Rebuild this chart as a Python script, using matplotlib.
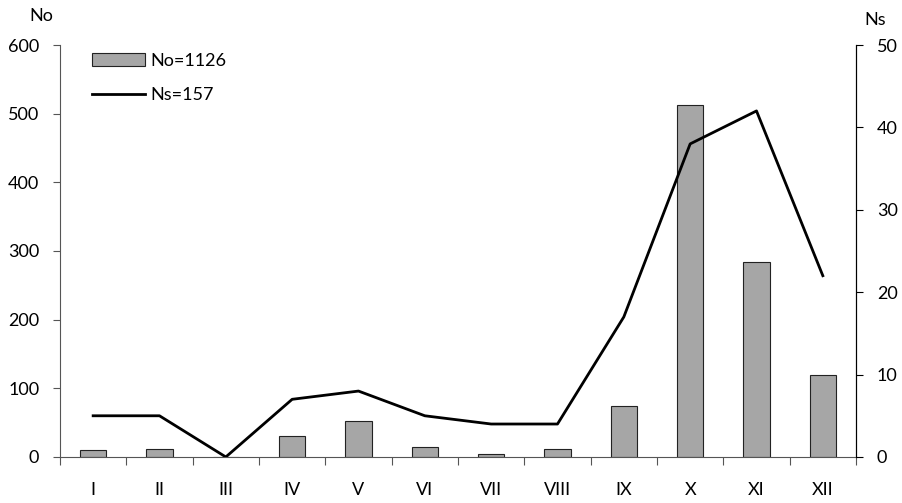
import matplotlib.pyplot as plt
import numpy as np

months = ["I", "II", "III", "IV", "V", "VI", "VII", "VIII", "IX", "X", "XI", "XII"]
no_vals = [10, 11, 0, 30, 52, 15, 5, 12, 74, 513, 284, 120]
ns_vals = [5, 5, 0, 7, 8, 5, 4, 4, 17, 38, 42, 22]

plt.rcParams['font.family'] = ['Lato', 'DejaVu Sans']
plt.rcParams['font.size'] = 13

fig = plt.figure(figsize=(9.02, 5.03), dpi=100)
ax = fig.add_axes([0.0665, 0.0915, 0.8825, 0.819])
x = np.arange(len(months))

bars = ax.bar(x, no_vals, width=0.4, color="#a6a6a6", edgecolor="#222222", linewidth=0.8,
              label="No=1126", zorder=2)
ax.set_xlim(-0.5, 11.5)
ax.set_ylim(0, 600)
ax.set_yticks(range(0, 601, 100))

ax2 = ax.twinx()
line, = ax2.plot(x, ns_vals, color="black", linewidth=2, label="Ns=157", zorder=3)
ax2.set_ylim(0, 50)
ax2.set_yticks(range(0, 51, 10))

# category ticks at boundaries, labels in middle
ax.set_xticks(np.arange(-0.5, 12, 1))
ax.set_xticklabels([])
ax.set_xticks(x, minor=True)
ax.set_xticklabels(months, minor=True)
ax.tick_params(axis="x", which="major", length=6, direction="out", color="#555555")
ax.tick_params(axis="x", which="minor", length=0, pad=18)
ax.tick_params(axis="y", length=5, color="#555555", pad=10)
ax2.tick_params(axis="y", length=5, color="black", pad=10)

for a in (ax, ax2):
    a.spines["top"].set_visible(False)
ax.spines["left"].set_color("#555555")
ax.spines["bottom"].set_color("#555555")
ax2.spines["left"].set_visible(False)
ax2.spines["bottom"].set_visible(False)
ax2.spines["right"].set_color("black")

fig.text(0.033, 0.968, "No", fontsize=13, ha="left", va="center")
fig.text(0.958, 0.96, "Ns", fontsize=13, ha="left", va="center")

leg = ax.legend([bars, line], ["No=1126", "Ns=157"], loc="upper left",
                bbox_to_anchor=(0.02, 1.02), frameon=False, handlelength=2.9,
                handleheight=0.7, labelspacing=1.0, handletextpad=0.3)

fig.savefig("out.png", dpi=100)
